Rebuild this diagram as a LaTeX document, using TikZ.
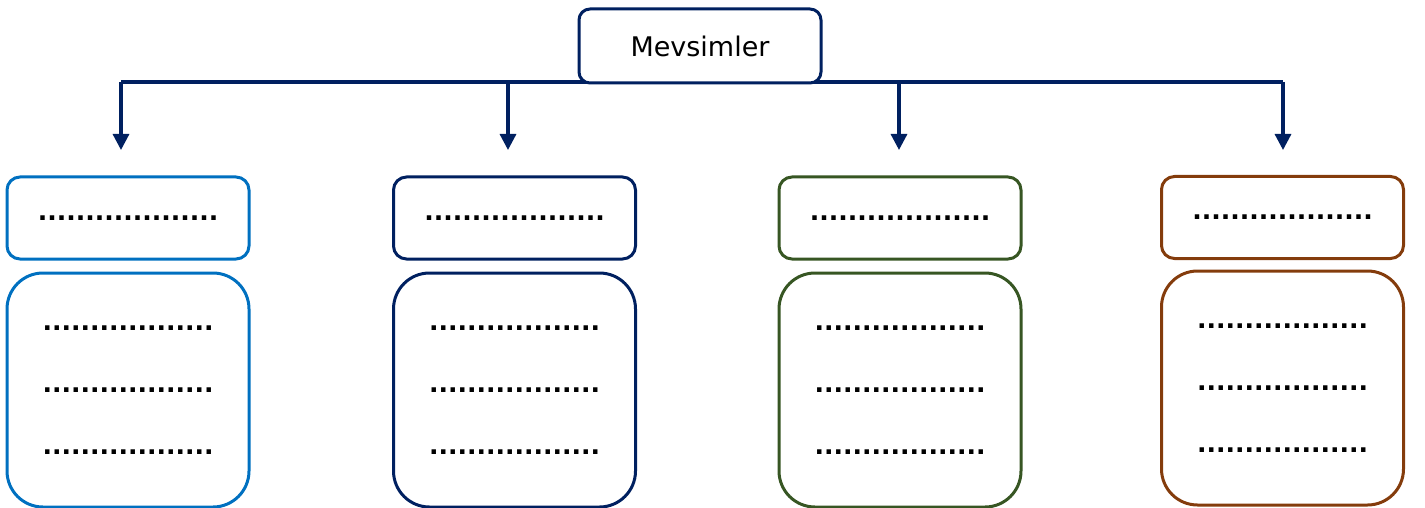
\documentclass[tikz,border=0pt]{standalone}
\usepackage{fontspec}
\setmainfont{DejaVu Sans}
\usetikzlibrary{arrows.meta}
\definecolor{cblue}{HTML}{0070C0}
\definecolor{cnavy}{HTML}{002060}
\definecolor{cgreen}{HTML}{375623}
\definecolor{cbrown}{HTML}{843C0C}
\tikzset{
  headbox/.style={draw=cnavy, fill=white, line width=3pt, rounded corners=11pt, minimum width=242pt, minimum height=74pt, inner sep=0pt, font=\fontsize{27}{32}\selectfont},
  smallbox/.style={draw=#1, line width=3pt, rounded corners=13pt, minimum width=242pt, minimum height=82pt, inner sep=0pt, font=\bfseries\fontsize{25}{30}\selectfont},
  bigbox/.style={draw=#1, line width=3pt, rounded corners=36pt, minimum width=242pt, minimum height=234pt, inner sep=0pt, align=center, font=\bfseries\fontsize{25}{62}\selectfont},
  conn/.style={draw=cnavy, line width=3.2pt},
  arr/.style={conn, -{Triangle[length=16pt,width=16pt]}}
}
\begin{document}
\begin{tikzpicture}[x=1pt,y=-1pt]
\useasboundingbox (0,0) rectangle (1425,508);
\coordinate (h1) at (121,82);
\coordinate (h2) at (508,82);
\coordinate (h3) at (899,82);
\coordinate (h4) at (1283,82);
\coordinate (a1) at (121,150);
\coordinate (a2) at (508,150);
\coordinate (a3) at (899,150);
\coordinate (a4) at (1283,150);
\draw[conn] (h1) -- (h4);
\draw[arr] (h1) -- (a1);
\draw[arr] (h2) -- (a2);
\draw[arr] (h3) -- (a3);
\draw[arr] (h4) -- (a4);
\node[headbox] (top) at (700,46) {Mevsimler};
\node[smallbox=cblue]  (s1) at (128,218)   {...................};
\node[smallbox=cnavy]  (s2) at (514.5,218) {...................};
\node[smallbox=cgreen] (s3) at (900,218)   {...................};
\node[smallbox=cbrown] (s4) at (1282.5,217.5) {...................};
\node[bigbox=cblue]  (b1) at (128,390)   {..................\\..................\\..................};
\node[bigbox=cnavy]  (b2) at (514.5,390) {..................\\..................\\..................};
\node[bigbox=cgreen] (b3) at (900,390)   {..................\\..................\\..................};
\node[bigbox=cbrown] (b4) at (1282.5,388) {..................\\..................\\..................};
\end{tikzpicture}
\end{document}
